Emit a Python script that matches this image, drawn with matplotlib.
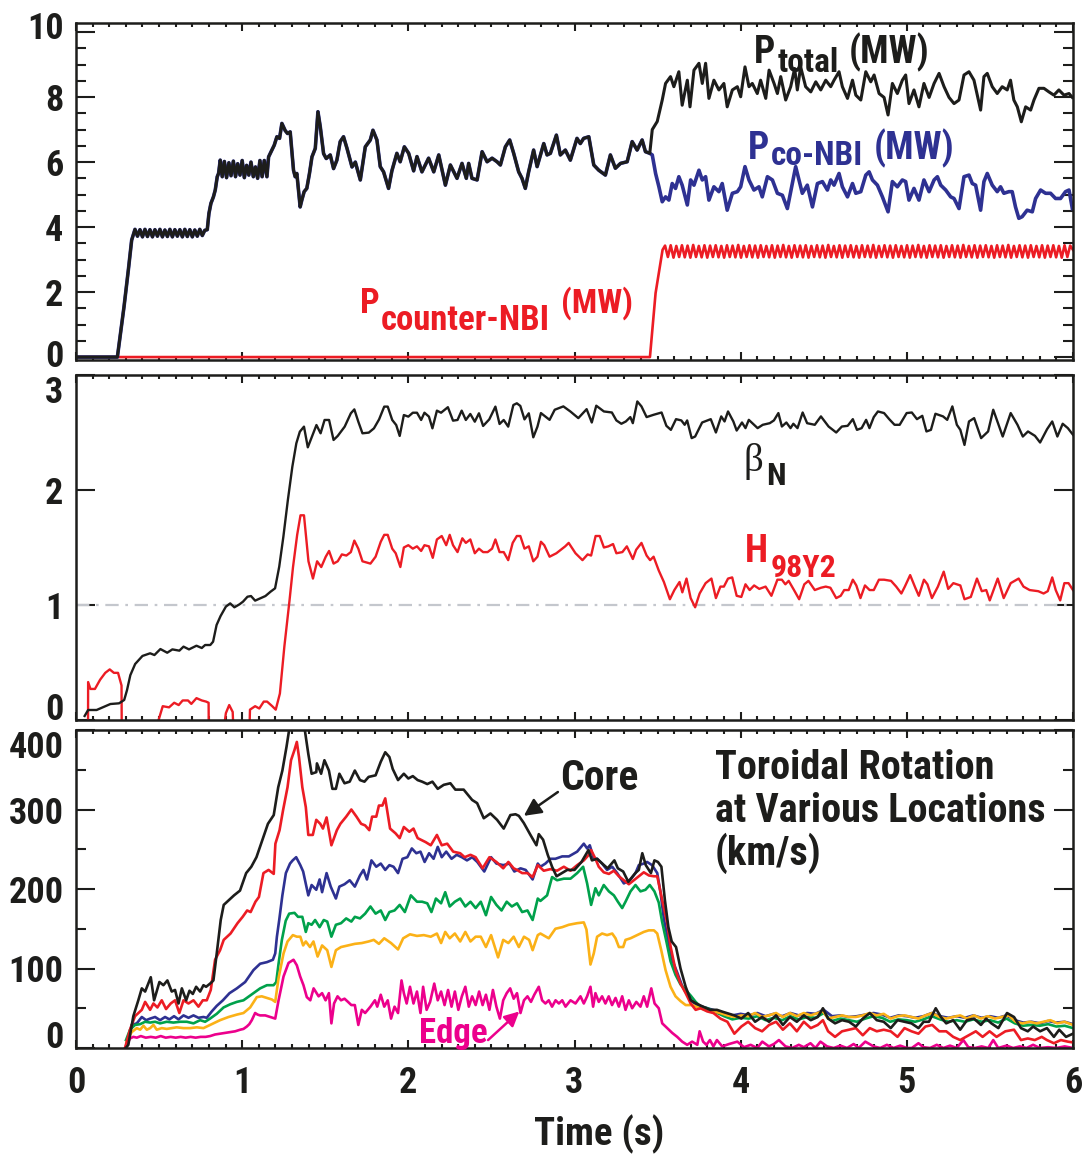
import os
import numpy as np
import matplotlib
matplotlib.use("Agg")
import matplotlib.pyplot as plt
from matplotlib import font_manager as fm
from matplotlib.ticker import MultipleLocator
from matplotlib.transforms import ScaledTranslation

# ---------------- data (time in s, value) ----------------
# Panel 1: NBI powers (MW)
pco_before = [(0.0,0),(0.249,0),(0.289,1.55),(0.315,2.68),(0.335,3.6),(0.355,3.93),
(0.370,3.72),(0.385,3.92),(0.400,3.70),(0.415,3.93),(0.430,3.71),(0.445,3.92),(0.460,3.70),(0.475,3.92),
(0.490,3.72),(0.505,3.93),(0.520,3.70),(0.535,3.91),(0.550,3.71),(0.565,3.93),(0.580,3.70),(0.595,3.92),
(0.610,3.72),(0.625,3.92),(0.640,3.70),(0.655,3.93),(0.670,3.71),(0.685,3.92),(0.700,3.70),(0.715,3.91),
(0.730,3.72),(0.745,3.93),(0.760,3.74),(0.775,3.90),(0.790,3.92),
(0.800,4.42),(0.812,4.73),(0.827,4.93),(0.838,5.14),(0.850,5.55),(0.858,5.65),(0.868,6.06),
(0.880,5.55),(0.893,6.02),(0.906,5.52),(0.920,5.98),(0.933,5.58),(0.947,6.03),(0.960,5.55),(0.973,5.95),
(0.987,5.60),(1.000,6.05),(1.013,5.52),(1.027,5.90),(1.040,5.60),(1.053,6.00),(1.067,5.55),(1.080,5.85),
(1.093,5.50),(1.107,6.05),(1.120,5.55),(1.133,6.05),(1.149,5.55),
(1.159,6.16),(1.179,6.37),(1.193,6.52),(1.209,6.78),(1.225,6.73),(1.239,7.19),(1.259,6.97),(1.273,6.88),
(1.289,6.93),(1.309,5.75),(1.319,5.55),(1.329,5.65),(1.349,4.62),(1.359,4.83),(1.373,5.09),(1.389,5.19),
(1.405,5.65),(1.420,6.16),(1.440,6.42),(1.456,7.55),(1.470,7.09),(1.490,6.26),(1.506,6.11),(1.530,6.22),
(1.550,5.80),(1.570,6.06),(1.590,6.63),(1.610,6.78),(1.631,6.42),(1.661,5.85),(1.681,6.00),(1.711,5.45),
(1.741,6.47),(1.771,6.68),(1.787,6.98),(1.811,6.68),(1.831,5.86),(1.851,5.70),(1.881,5.19),(1.901,5.73),
(1.931,6.27),(1.951,6.01),(1.976,6.47),(2.002,6.27),(2.032,5.73),(2.052,6.17),(2.082,5.70),(2.122,6.12),
(2.153,5.70),(2.183,6.22),(2.223,5.29),(2.253,5.91),(2.293,5.50),(2.323,5.96),(2.349,5.50),(2.363,5.96),
(2.383,5.50),(2.414,5.45),(2.444,6.32),(2.474,6.01),(2.504,6.12),(2.534,6.01),(2.554,5.91),(2.584,6.47),
(2.610,6.68),(2.634,6.27),(2.664,5.70),(2.684,5.50),(2.704,5.19),(2.724,5.70),(2.754,6.37),(2.775,5.86),
(2.815,6.57),(2.835,6.22),(2.855,6.27),(2.891,6.83),(2.915,6.22),(2.945,6.37),(2.975,6.06),(3.015,6.73),
(3.035,6.57),(3.055,6.73),(3.086,6.78),(3.116,5.91),(3.146,5.75),(3.186,5.60),(3.216,6.22),(3.246,5.81),
(3.277,5.96),(3.317,6.01),(3.347,6.63),(3.377,6.37),(3.407,6.68),(3.427,6.32),(3.453,6.27)]

pco_after = [(3.468,6.22),(3.488,5.65),(3.508,5.24),(3.528,4.78),(3.548,4.93),(3.568,4.83),(3.588,5.34),
(3.608,5.19),(3.628,5.55),(3.648,5.29),(3.679,4.68),(3.699,5.45),(3.719,5.29),(3.749,5.75),(3.769,5.45),
(3.789,5.55),(3.809,4.83),(3.839,5.24),(3.869,5.09),(3.889,5.34),(3.919,4.52),(3.950,5.04),(3.980,5.09),
(4.000,5.24),(4.026,5.86),(4.050,5.45),(4.080,5.14),(4.110,5.24),(4.130,4.93),(4.161,5.55),(4.191,5.45),
(4.221,5.04),(4.251,4.98),(4.281,4.57),(4.311,5.34),(4.331,5.86),(4.351,5.45),(4.371,5.04),(4.401,5.29),
(4.432,4.62),(4.462,5.34),(4.492,5.40),(4.522,5.14),(4.542,5.45),(4.562,5.29),(4.592,5.65),(4.612,5.24),
(4.643,4.93),(4.673,5.34),(4.693,5.04),(4.723,5.09),(4.753,5.60),(4.773,5.70),(4.793,5.45),(4.823,5.29),
(4.853,4.93),(4.887,4.47),(4.913,5.40),(4.943,5.24),(4.973,5.45),(4.993,5.40),(5.013,4.83),(5.043,5.19),
(5.073,4.83),(5.103,5.45),(5.134,5.09),(5.164,5.45),(5.184,5.55),(5.204,5.29),(5.234,5.14),(5.264,4.93),
(5.284,4.88),(5.314,4.57),(5.344,5.55),(5.374,5.60),(5.394,5.34),(5.414,5.29),(5.444,4.52),(5.464,5.40),
(5.484,5.65),(5.514,5.29),(5.544,5.09),(5.564,5.24),(5.584,5.04),(5.614,5.09),(5.634,5.09),(5.654,4.62),
(5.674,4.27),(5.694,4.32),(5.724,4.52),(5.755,4.47),(5.775,4.88),(5.805,5.14),(5.835,5.04),(5.865,5.04),
(5.895,4.88),(5.925,4.88),(5.955,5.09),(5.976,5.14),(5.996,4.57)]

ptotal_after = [(3.468,7.00),(3.498,7.25),(3.528,7.91),(3.548,8.42),(3.578,8.63),(3.598,8.32),(3.628,8.78),
(3.648,7.75),(3.679,8.52),(3.695,7.70),(3.719,8.83),(3.749,9.04),(3.769,8.42),(3.789,9.04),(3.809,7.96),
(3.839,8.52),(3.869,8.22),(3.899,8.42),(3.919,7.70),(3.950,8.22),(3.980,8.32),(4.000,8.01),(4.026,8.93),
(4.050,8.32),(4.070,8.42),(4.100,8.11),(4.120,8.52),(4.151,7.96),(4.171,8.83),(4.201,8.42),(4.221,8.11),
(4.241,8.63),(4.271,7.91),(4.301,8.32),(4.325,8.88),(4.341,8.22),(4.361,8.93),(4.391,8.32),(4.422,8.16),
(4.452,8.47),(4.482,8.22),(4.512,8.52),(4.542,8.32),(4.562,8.52),(4.592,8.78),(4.612,8.32),(4.643,7.96),
(4.673,8.52),(4.693,8.06),(4.723,7.91),(4.753,8.78),(4.783,8.47),(4.803,8.68),(4.833,8.11),(4.863,7.99),
(4.887,7.45),(4.913,8.42),(4.943,8.11),(4.973,8.52),(4.993,8.68),(5.013,7.80),(5.043,8.22),(5.073,7.70),
(5.103,8.42),(5.134,7.99),(5.164,8.42),(5.194,8.73),(5.224,8.32),(5.254,7.99),(5.284,7.80),(5.314,7.91),
(5.344,8.68),(5.374,8.78),(5.404,8.52),(5.444,7.60),(5.464,8.63),(5.484,8.73),(5.514,8.32),(5.544,8.11),
(5.574,8.32),(5.604,8.22),(5.624,8.52),(5.644,7.91),(5.665,7.70),(5.689,7.24),(5.715,7.70),(5.745,7.60),
(5.765,7.91),(5.795,8.27),(5.825,8.27),(5.855,8.16),(5.885,8.06),(5.915,8.22),(5.946,8.06),(5.976,8.11),
(5.996,7.99)]

pcounter_ramp = [(0.0,0),(3.454,0),(3.488,1.97),(3.530,3.30)]
pcounter_zig = [
3.43,3.08,3.44,3.06,3.42,3.08,3.44,3.07,3.43,3.06,3.45,3.08,3.42,3.07,3.44,3.06,3.43,3.08,3.44,3.07,
3.42,3.06,3.44,3.08,3.43,3.07,3.45,3.06,3.42,3.08,3.44,3.07,3.43,3.06,3.44,3.08,3.42,3.07,3.44,3.06,
3.43,3.08,3.45,3.07,3.42,3.06,3.44,3.08,3.43,3.07,3.44,3.06,3.42,3.08,3.44,3.07,3.43,3.06,3.45,3.08,
3.42,3.07,3.44,3.06,3.43,3.08,3.44,3.07,3.42,3.06,3.44,3.08,3.43,3.07,3.45,3.06,3.42,3.08,3.44,3.07,
3.43,3.06,3.44,3.08,3.42,3.07,3.44,3.06,3.43,3.08,3.45,3.07,3.42,3.06,3.44,3.08,3.43,3.07,3.44,3.06,
3.42,3.08,3.44,3.07,3.43,3.06,3.45,3.08,3.42,3.07,3.44,3.06,3.43,3.08,3.44,3.07,3.42,3.06,3.44,3.08,
3.43,3.07,3.45,3.06,3.42,3.08,3.44,3.07,3.43,3.06,3.44,3.08,3.42,3.07,3.44,3.06,3.43,3.08,3.44,3.07,
3.42,3.06,3.44,3.08,3.43,3.30]
pcounter_zig_span = (3.545, 6.0)

# Panel 2: beta_N and H98y2
beta_n = [(0.052,0.035),(0.073,0.087),(0.124,0.087),(0.207,0.139),(0.259,0.145),(0.290,0.174),(0.307,0.26),
(0.327,0.39),(0.356,0.487),(0.40,0.557),(0.446,0.58),(0.472,0.565),(0.508,0.617),(0.549,0.585),(0.58,0.614),
(0.622,0.603),(0.647,0.638),(0.68,0.614),(0.725,0.646),(0.757,0.626),(0.777,0.652),(0.808,0.652),(0.825,0.681),
(0.846,0.826),(0.87,0.904),(0.902,0.986),(0.928,1.014),(0.953,0.98),(0.984,1.006),(1.005,1.029),(1.032,1.072),
(1.053,1.078),(1.078,1.038),(1.109,1.058),(1.14,1.078),(1.171,1.116),(1.198,1.145),(1.223,1.333),(1.248,1.594),
(1.275,1.913),(1.302,2.203),(1.326,2.406),(1.347,2.507),(1.372,2.551),(1.395,2.371),(1.42,2.464),(1.447,2.565),
(1.472,2.493),(1.496,2.609),(1.523,2.609),(1.55,2.435),(1.575,2.47),(1.617,2.551),(1.654,2.667),(1.675,2.701),
(1.699,2.594),(1.724,2.493),(1.762,2.499),(1.793,2.536),(1.824,2.614),(1.855,2.725),(1.876,2.725),(1.903,2.609),
(1.927,2.565),(1.948,2.47),(1.973,2.652),(2.0,2.638),(2.027,2.672),(2.052,2.672),(2.077,2.609),(2.097,2.672),
(2.124,2.638),(2.145,2.536),(2.172,2.69),(2.197,2.672),(2.238,2.72),(2.269,2.603),(2.296,2.609),(2.321,2.69),
(2.346,2.609),(2.373,2.661),(2.4,2.594),(2.425,2.667),(2.45,2.557),(2.487,2.614),(2.524,2.725),(2.549,2.574),
(2.574,2.609),(2.601,2.551),(2.632,2.739),(2.653,2.754),(2.674,2.731),(2.699,2.614),(2.725,2.667),(2.752,2.458),
(2.777,2.551),(2.798,2.669),(2.85,2.61),(2.881,2.698),(2.933,2.727),(2.975,2.683),(3.023,2.625),(3.073,2.703),
(3.104,2.587),(3.131,2.733),(3.177,2.683),(3.225,2.674),(3.252,2.605),(3.282,2.576),(3.309,2.596),(3.336,2.634),
(3.351,2.581),(3.378,2.77),(3.403,2.727),(3.434,2.634),(3.476,2.654),(3.524,2.674),(3.553,2.558),(3.58,2.523),
(3.611,2.616),(3.643,2.605),(3.663,2.567),(3.678,2.605),(3.705,2.451),(3.726,2.465),(3.768,2.587),(3.82,2.616),
(3.851,2.5),(3.883,2.64),(3.903,2.596),(3.924,2.683),(3.956,2.596),(3.976,2.517),(4.008,2.587),(4.029,2.538),
(4.049,2.61),(4.074,2.576),(4.102,2.538),(4.133,2.567),(4.175,2.581),(4.2,2.605),(4.227,2.669),(4.248,2.552),
(4.275,2.587),(4.3,2.538),(4.317,2.576),(4.342,2.538),(4.373,2.674),(4.4,2.581),(4.446,2.567),(4.483,2.64),
(4.529,2.552),(4.575,2.5),(4.609,2.552),(4.644,2.558),(4.675,2.616),(4.7,2.523),(4.728,2.538),(4.755,2.61),
(4.775,2.538),(4.801,2.634),(4.826,2.683),(4.863,2.669),(4.894,2.616),(4.926,2.567),(4.957,2.567),(4.999,2.669),
(5.03,2.674),(5.061,2.616),(5.093,2.645),(5.118,2.509),(5.145,2.523),(5.172,2.663),(5.218,2.64),(5.243,2.61),
(5.274,2.727),(5.301,2.567),(5.322,2.523),(5.347,2.392),(5.374,2.596),(5.405,2.625),(5.447,2.451),(5.489,2.509),
(5.52,2.698),(5.552,2.567),(5.577,2.465),(5.625,2.669),(5.666,2.567),(5.698,2.465),(5.729,2.509),(5.771,2.471),
(5.802,2.413),(5.844,2.529),(5.875,2.596),(5.906,2.465),(5.938,2.576),(5.969,2.538),(6.0,2.48)]

h98y2 = [(0.072,-0.3),(0.073,0.33),(0.087,0.27),(0.114,0.27),(0.145,0.35),(0.176,0.41),(0.203,0.44),(0.228,0.41),
(0.253,0.41),(0.274,0.30),(0.276,-0.3),(0.48,-0.3),(0.497,0.0),(0.522,0.12),(0.56,0.11),(0.591,0.15),(0.618,0.13),
(0.642,0.17),(0.674,0.17),(0.694,0.14),(0.725,0.19),(0.757,0.17),(0.783,0.16),(0.798,0.15),(0.80,-0.3),(0.87,-0.3),
(0.902,0.06),(0.922,0.13),(0.943,0.07),(0.953,-0.3),(1.04,-0.3),(1.047,0.09),(1.078,0.12),(1.103,0.10),(1.13,0.16),
(1.15,0.16),(1.181,0.12),(1.202,0.09),(1.227,0.23),(1.254,0.64),(1.285,1.04),(1.306,1.33),(1.331,1.61),(1.351,1.78),
(1.372,1.78),(1.399,1.38),(1.426,1.23),(1.451,1.38),(1.476,1.33),(1.503,1.42),(1.523,1.47),(1.55,1.36),(1.575,1.38),
(1.6,1.44),(1.627,1.43),(1.654,1.46),(1.675,1.56),(1.699,1.49),(1.724,1.38),(1.772,1.36),(1.803,1.42),(1.834,1.55),
(1.855,1.61),(1.876,1.61),(1.903,1.49),(1.924,1.45),(1.952,1.33),(1.973,1.50),(2.0,1.52),(2.027,1.49),(2.052,1.51),
(2.077,1.47),(2.097,1.52),(2.124,1.51),(2.147,1.41),(2.172,1.57),(2.201,1.60),(2.228,1.52),(2.249,1.61),(2.269,1.52),
(2.296,1.46),(2.325,1.58),(2.346,1.54),(2.373,1.57),(2.4,1.45),(2.425,1.49),(2.45,1.46),(2.477,1.46),(2.504,1.49),
(2.524,1.57),(2.549,1.46),(2.574,1.46),(2.601,1.39),(2.628,1.54),(2.653,1.60),(2.674,1.60),(2.699,1.49),(2.725,1.51),
(2.752,1.38),(2.777,1.42),(2.798,1.55),(2.818,1.52),(2.85,1.42),(2.891,1.45),(2.944,1.51),(2.965,1.54),(3.006,1.45),
(3.048,1.39),(3.079,1.44),(3.1,1.43),(3.127,1.60),(3.152,1.60),(3.177,1.50),(3.204,1.51),(3.232,1.53),(3.252,1.45),
(3.288,1.46),(3.315,1.51),(3.351,1.40),(3.371,1.48),(3.403,1.54),(3.434,1.43),(3.455,1.39),(3.476,1.42),(3.507,1.30),
(3.538,1.20),(3.574,1.05),(3.601,1.13),(3.632,1.20),(3.649,1.11),(3.674,1.23),(3.699,1.06),(3.726,0.98),(3.753,1.10),
(3.789,1.19),(3.824,1.23),(3.851,1.06),(3.878,1.16),(3.899,1.16),(3.924,1.23),(3.949,1.24),(3.976,1.08),(4.004,1.07),
(4.029,1.18),(4.054,1.13),(4.081,1.17),(4.112,1.14),(4.15,1.16),(4.185,1.08),(4.221,1.22),(4.248,1.22),(4.269,1.18),
(4.289,1.21),(4.321,1.13),(4.352,1.05),(4.383,1.18),(4.408,1.21),(4.446,1.13),(4.483,1.15),(4.512,1.16),(4.54,1.15),
(4.575,1.06),(4.602,1.08),(4.623,1.13),(4.65,1.13),(4.675,1.22),(4.696,1.17),(4.721,1.06),(4.748,1.17),(4.776,1.13),
(4.801,1.13),(4.832,1.22),(4.863,1.22),(4.905,1.21),(4.936,1.16),(4.967,1.10),(4.988,1.16),(5.02,1.26),(5.051,1.15),
(5.072,1.08),(5.103,1.22),(5.124,1.18),(5.151,1.06),(5.187,1.16),(5.222,1.29),(5.249,1.14),(5.28,1.19),(5.301,1.18),
(5.322,1.17),(5.347,1.05),(5.385,1.07),(5.422,1.23),(5.451,1.12),(5.478,1.13),(5.499,1.04),(5.547,1.23),(5.583,1.06),
(5.625,1.19),(5.673,1.23),(5.702,1.16),(5.739,1.13),(5.791,1.12),(5.823,1.10),(5.848,1.12),(5.875,1.24),(5.896,1.13),
(5.923,1.04),(5.948,1.19),(5.973,1.19),(6.0,1.13)]
h98_reference = 1.0

# Panel 3: toroidal rotation (km/s), core to edge
rot_core = [(0.30,0),(0.315,4),(0.345,40),(0.375,60),(0.396,75),(0.416,71),(0.45,89),(0.47,60),(0.502,83),
(0.526,79),(0.55,85),(0.576,71),(0.596,73),(0.617,56),(0.637,75),(0.663,60),(0.683,72),(0.703,68),(0.723,77),
(0.747,71),(0.767,79),(0.783,77),(0.807,81),(0.827,85),(0.847,119),(0.871,161),(0.889,180),(0.92,186),(0.951,192),
(0.987,198),(1.024,220),(1.055,228),(1.086,240),(1.117,259),(1.155,282),(1.19,293),(1.217,328),(1.242,349),
(1.267,379),(1.29,410),(1.31,440),(1.33,445),(1.35,430),(1.377,400),(1.398,370),(1.418,345),(1.446,347),(1.45,358),
(1.475,345),(1.495,362),(1.522,349),(1.543,326),(1.564,326),(1.585,345),(1.616,333),(1.647,335),(1.678,349),
(1.709,337),(1.736,335),(1.761,341),(1.803,343),(1.834,360),(1.861,372),(1.886,366),(1.906,351),(1.938,337),
(1.973,345),(2.0,339),(2.027,342),(2.056,337),(2.083,335),(2.114,332),(2.145,335),(2.177,326),(2.213,331),
(2.253,333),(2.283,325),(2.333,325),(2.384,312),(2.414,308),(2.454,289),(2.494,295),(2.534,287),(2.574,276),
(2.614,293),(2.645,294),(2.665,292),(2.695,283),(2.735,268),(2.771,255),(2.785,269),(2.811,262),(2.839,243),
(2.865,228),(2.892,216),(2.916,219),(2.956,224),(3.0,224),(3.042,234),(3.084,249),(3.105,236),(3.136,238),
(3.167,232),(3.199,226),(3.24,236),(3.261,226),(3.293,222),(3.324,209),(3.366,220),(3.387,224),(3.408,245),
(3.429,230),(3.46,220),(3.481,236),(3.502,234),(3.523,228),(3.544,186),(3.565,152),(3.585,134),(3.611,127),
(3.638,100),(3.669,77),(3.7,60),(3.732,56),(3.774,52),(3.815,48),(3.857,48),(3.9,45),(3.962,41),(4.004,37),
(4.045,44),(4.087,33),(4.129,39),(4.171,33),(4.213,41),(4.254,29),(4.296,39),(4.338,33),(4.38,41),(4.422,35),
(4.464,39),(4.495,50),(4.526,37),(4.568,31),(4.61,35),(4.652,33),(4.693,27),(4.735,37),(4.777,44),(4.819,35),
(4.861,33),(4.903,25),(4.944,35),(4.986,33),(5.028,31),(5.07,25),(5.101,33),(5.133,33),(5.174,50),(5.205,39),
(5.237,31),(5.279,35),(5.321,23),(5.362,35),(5.404,37),(5.446,29),(5.477,37),(5.509,31),(5.551,25),(5.603,44),
(5.645,39),(5.687,25),(5.728,21),(5.76,27),(5.802,21),(5.843,25),(5.885,14),(5.917,23),(5.958,14),(6.0,18)]

rot_red = [(0.295,0),(0.325,23),(0.355,40),(0.396,48),(0.416,58),(0.446,48),(0.466,56),(0.49,51),(0.516,60),
(0.542,49),(0.57,56),(0.596,60),(0.622,44),(0.647,60),(0.677,56),(0.707,60),(0.737,52),(0.763,60),(0.787,60),
(0.811,73),(0.837,111),(0.867,123),(0.889,136),(0.93,144),(0.972,157),(1.003,165),(1.03,173),(1.051,171),
(1.08,184),(1.101,190),(1.128,220),(1.159,224),(1.19,219),(1.2,257),(1.225,274),(1.246,299),(1.273,328),
(1.294,362),(1.315,375),(1.329,385),(1.342,366),(1.362,328),(1.383,303),(1.398,268),(1.425,268),(1.446,287),
(1.47,282),(1.486,276),(1.508,290),(1.537,255),(1.57,274),(1.591,282),(1.626,291),(1.657,300),(1.688,291),
(1.716,282),(1.74,280),(1.765,274),(1.782,291),(1.807,291),(1.823,305),(1.844,305),(1.861,314),(1.89,276),
(1.923,270),(1.948,264),(1.973,278),(2.006,272),(2.031,276),(2.056,264),(2.104,259),(2.135,255),(2.172,268),
(2.201,255),(2.234,257),(2.27,247),(2.312,245),(2.339,240),(2.374,243),(2.405,240),(2.447,226),(2.488,240),
(2.53,234),(2.571,226),(2.602,234),(2.634,226),(2.654,224),(2.685,220),(2.717,220),(2.748,215),(2.779,230),
(2.815,223),(2.855,225),(2.895,223),(2.936,228),(2.976,223),(3.016,230),(3.056,236),(3.086,243),(3.1,249),
(3.126,238),(3.146,228),(3.176,221),(3.207,219),(3.237,223),(3.267,216),(3.297,211),(3.327,206),(3.357,211),
(3.387,216),(3.417,221),(3.448,217),(3.478,216),(3.498,216),(3.528,186),(3.558,157),(3.578,128),(3.608,98),
(3.638,81),(3.669,69),(3.699,56),(3.729,48),(3.759,50),(3.799,46),(3.836,44),(3.878,37),(3.92,33),(3.962,18),
(4.004,27),(4.045,33),(4.087,25),(4.129,21),(4.171,29),(4.213,33),(4.254,23),(4.296,31),(4.338,21),(4.38,33),
(4.422,25),(4.464,29),(4.495,35),(4.526,21),(4.568,14),(4.61,21),(4.652,23),(4.693,25),(4.735,16),(4.777,25),
(4.819,21),(4.861,23),(4.903,21),(4.944,14),(4.986,25),(5.028,21),(5.07,18),(5.112,27),(5.153,29),(5.195,21),
(5.237,21),(5.279,14),(5.321,10),(5.373,16),(5.415,21),(5.456,14),(5.498,21),(5.54,14),(5.593,21),(5.645,23),
(5.687,10),(5.728,12),(5.77,10),(5.812,14),(5.843,10),(5.885,6),(5.927,10),(5.969,8),(6.0,7)]

rot_blue = [(0.305,4),(0.335,29),(0.366,31),(0.396,39),(0.422,35),(0.446,37),(0.476,39),(0.506,35),(0.536,39),
(0.562,36),(0.59,40),(0.617,36),(0.647,41),(0.677,38),(0.707,41),(0.737,38),(0.767,39),(0.787,38),(0.817,46),
(0.847,53),(0.884,60),(0.924,69),(0.968,75),(1.018,83),(1.068,98),(1.108,106),(1.149,108),(1.185,111),(1.199,119),
(1.209,140),(1.223,161),(1.242,192),(1.263,220),(1.288,232),(1.304,236),(1.325,240),(1.35,230),(1.367,222),
(1.398,192),(1.418,205),(1.446,199),(1.466,212),(1.481,196),(1.508,220),(1.533,203),(1.564,188),(1.585,203),
(1.616,206),(1.647,211),(1.678,203),(1.709,217),(1.73,224),(1.751,212),(1.778,236),(1.807,228),(1.834,232),
(1.861,224),(1.886,230),(1.911,228),(1.938,220),(1.965,238),(1.994,240),(2.021,251),(2.048,245),(2.073,247),
(2.098,234),(2.125,245),(2.152,238),(2.177,253),(2.201,240),(2.228,247),(2.26,238),(2.291,243),(2.322,240),
(2.353,236),(2.384,240),(2.415,234),(2.457,222),(2.498,240),(2.53,232),(2.571,230),(2.609,232),(2.638,222),
(2.675,226),(2.706,224),(2.748,212),(2.779,232),(2.795,228),(2.825,232),(2.855,238),(2.885,238),(2.926,241),
(2.966,241),(3.016,247),(3.056,257),(3.076,251),(3.092,255),(3.116,238),(3.136,238),(3.166,232),(3.196,224),
(3.227,228),(3.257,220),(3.297,207),(3.337,212),(3.367,220),(3.387,230),(3.417,232),(3.437,234),(3.467,230),
(3.498,220),(3.518,195),(3.538,162),(3.562,137),(3.588,111),(3.618,95),(3.648,78),(3.678,67),(3.709,58),
(3.739,54),(3.77,52),(3.8,50),(3.85,47),(3.9,44),(3.95,41),(4.0,43),(4.05,41),(4.1,44),(4.15,40),(4.2,43),
(4.25,40),(4.3,44),(4.35,41),(4.4,44),(4.45,43),(4.5,48),(4.55,40),(4.6,41),(4.65,39),(4.7,40),(4.75,42),
(4.8,44),(4.85,42),(4.9,38),(4.95,41),(5.0,40),(5.05,38),(5.1,40),(5.15,44),(5.2,40),(5.25,38),(5.3,40),
(5.35,38),(5.4,41),(5.45,38),(5.5,40),(5.55,38),(5.6,41),(5.65,35),(5.7,32),(5.75,33),(5.8,31),(5.85,34),
(5.9,32),(5.95,33),(6.0,30)]

rot_green = [(0.301,10),(0.325,23),(0.355,29),(0.386,30),(0.416,33),(0.446,32),(0.476,33),(0.506,31),(0.546,33),
(0.586,32),(0.627,33),(0.667,33),(0.707,31),(0.747,35),(0.777,33),(0.807,37),(0.847,43),(0.888,51),(0.928,55),
(0.968,58),(1.008,60),(1.048,66),(1.088,72),(1.108,75),(1.149,79),(1.189,79),(1.205,83),(1.219,106),(1.239,136),
(1.262,160),(1.283,169),(1.315,170),(1.336,165),(1.362,165),(1.383,146),(1.398,157),(1.418,155),(1.439,161),
(1.466,152),(1.491,161),(1.512,159),(1.537,140),(1.564,155),(1.595,157),(1.626,163),(1.657,159),(1.678,165),
(1.709,163),(1.74,169),(1.772,178),(1.803,169),(1.834,173),(1.861,161),(1.886,171),(1.917,173),(1.948,180),
(1.979,171),(2.015,192),(2.052,184),(2.083,184),(2.114,182),(2.139,171),(2.166,188),(2.197,182),(2.222,196),
(2.249,178),(2.28,184),(2.312,188),(2.343,178),(2.374,184),(2.405,176),(2.436,184),(2.467,167),(2.498,190),
(2.53,180),(2.561,173),(2.592,184),(2.623,178),(2.654,182),(2.685,171),(2.717,173),(2.748,161),(2.779,188),
(2.795,185),(2.835,192),(2.865,215),(2.895,211),(2.936,213),(2.976,213),(3.016,220),(3.052,228),(3.076,207),
(3.1,180),(3.126,201),(3.146,192),(3.176,205),(3.207,197),(3.237,192),(3.261,184),(3.287,176),(3.307,184),
(3.337,197),(3.367,205),(3.397,197),(3.427,199),(3.453,205),(3.481,197),(3.507,183),(3.527,159),(3.553,134),
(3.578,109),(3.608,92),(3.638,80),(3.669,73),(3.699,66),(3.729,58),(3.759,52),(3.8,50),(3.85,45),(3.9,40),
(3.95,36),(4.0,38),(4.05,37),(4.1,40),(4.15,35),(4.2,38),(4.25,35),(4.3,40),(4.35,36),(4.4,39),(4.45,38),
(4.5,44),(4.55,34),(4.6,37),(4.65,35),(4.7,33),(4.75,37),(4.8,40),(4.85,38),(4.9,33),(4.95,36),(5.0,35),
(5.05,33),(5.1,36),(5.15,40),(5.2,36),(5.25,33),(5.3,35),(5.35,33),(5.4,36),(5.45,33),(5.5,35),(5.55,32),
(5.6,37),(5.65,31),(5.7,28),(5.75,29),(5.8,28),(5.85,30),(5.9,27),(5.95,28),(6.0,25)]

rot_orange = [(0.305,8),(0.335,20),(0.366,25),(0.386,23),(0.406,28),(0.426,23),(0.446,25),(0.466,29),(0.486,23),
(0.516,25),(0.546,24),(0.576,25),(0.606,26),(0.647,25),(0.687,25),(0.727,26),(0.767,25),(0.787,27),(0.827,31),
(0.867,35),(0.918,39),(0.968,42),(1.008,44),(1.048,51),(1.088,64),(1.118,65),(1.149,63),(1.179,61),(1.199,58),
(1.219,88),(1.249,119),(1.273,134),(1.305,142),(1.329,140),(1.35,140),(1.367,129),(1.383,134),(1.408,127),
(1.429,134),(1.454,115),(1.481,129),(1.512,123),(1.537,102),(1.564,123),(1.595,127),(1.637,129),(1.678,131),
(1.72,132),(1.761,134),(1.792,136),(1.823,131),(1.855,138),(1.896,132),(1.938,124),(1.969,138),(2.01,143),
(2.052,141),(2.093,142),(2.135,140),(2.172,144),(2.197,132),(2.222,146),(2.249,138),(2.28,144),(2.312,134),
(2.343,146),(2.374,134),(2.405,140),(2.436,140),(2.467,127),(2.498,142),(2.54,114),(2.571,136),(2.602,132),
(2.634,140),(2.665,127),(2.696,140),(2.727,136),(2.748,123),(2.779,142),(2.795,144),(2.845,138),(2.885,150),
(2.926,152),(2.966,155),(3.016,157),(3.056,158),(3.072,149),(3.096,105),(3.116,119),(3.136,140),(3.166,144),
(3.196,142),(3.227,144),(3.247,138),(3.267,127),(3.293,127),(3.307,136),(3.337,138),(3.377,142),(3.417,146),
(3.447,148),(3.478,148),(3.498,144),(3.522,123),(3.548,98),(3.578,77),(3.608,65),(3.638,59),(3.669,54),
(3.711,54),(3.753,50),(3.794,48),(3.836,46),(3.878,44),(3.92,41),(3.962,39),(4.004,41),(4.045,40),(4.087,44),
(4.129,39),(4.171,41),(4.213,44),(4.254,39),(4.296,44),(4.338,40),(4.38,44),(4.422,41),(4.464,44),(4.495,46),
(4.526,37),(4.568,39),(4.61,41),(4.652,39),(4.693,39),(4.735,41),(4.777,44),(4.819,41),(4.861,43),(4.903,37),
(4.944,40),(4.986,41),(5.028,39),(5.07,37),(5.112,41),(5.153,44),(5.195,39),(5.237,37),(5.279,39),(5.321,41),
(5.362,37),(5.404,41),(5.446,37),(5.488,40),(5.53,37),(5.572,39),(5.614,41),(5.655,33),(5.697,31),(5.739,33),
(5.781,31),(5.822,33),(5.864,35),(5.906,31),(5.948,33),(6.0,29)]

rot_edge = [(0.295,0),(0.325,12),(0.345,14),(0.366,13),(0.39,15),(0.42,13),(0.45,14),(0.48,13),(0.51,15),(0.54,13),
(0.57,14),(0.6,13),(0.63,14),(0.66,13),(0.69,14),(0.72,13),(0.75,14),(0.78,14),(0.807,15),(0.837,17),(0.867,18),
(0.898,19),(0.928,20),(0.958,21),(0.988,23),(1.008,24),(1.028,27),(1.043,30),(1.058,35),(1.078,44),(1.093,42),
(1.108,41),(1.139,41),(1.169,39),(1.199,37),(1.219,60),(1.249,90),(1.279,107),(1.309,111),(1.329,104),(1.349,90),
(1.369,79),(1.389,64),(1.41,60),(1.43,75),(1.46,65),(1.481,69),(1.502,60),(1.522,69),(1.537,31),(1.553,56),
(1.574,65),(1.595,60),(1.616,62),(1.637,58),(1.657,54),(1.678,54),(1.699,29),(1.72,48),(1.74,44),(1.772,52),
(1.799,60),(1.813,52),(1.834,67),(1.855,52),(1.876,60),(1.896,37),(1.917,52),(1.938,44),(1.959,85),(1.973,69),
(1.99,56),(2.01,77),(2.031,56),(2.052,71),(2.073,44),(2.089,77),(2.11,48),(2.131,58),(2.156,81),(2.177,60),
(2.197,71),(2.218,54),(2.239,73),(2.26,52),(2.28,71),(2.301,48),(2.322,65),(2.343,77),(2.364,52),(2.384,65),
(2.405,54),(2.426,71),(2.447,54),(2.467,67),(2.488,48),(2.509,73),(2.53,52),(2.551,37),(2.571,60),(2.592,69),
(2.613,75),(2.634,62),(2.654,69),(2.675,44),(2.696,60),(2.717,65),(2.738,58),(2.758,67),(2.785,77),(2.805,60),
(2.825,56),(2.845,60),(2.865,52),(2.886,60),(2.906,56),(2.926,60),(2.946,52),(2.976,60),(3.006,56),(3.036,65),
(3.056,56),(3.076,65),(3.096,77),(3.112,52),(3.126,69),(3.146,58),(3.166,65),(3.186,56),(3.206,65),(3.226,54),
(3.247,63),(3.267,52),(3.287,65),(3.307,48),(3.327,60),(3.347,50),(3.372,58),(3.397,52),(3.417,65),(3.437,52),
(3.462,75),(3.482,56),(3.507,50),(3.528,31),(3.558,25),(3.588,19),(3.618,14),(3.648,8),(3.678,4),(3.708,8),
(3.739,4),(3.753,21),(3.774,8),(3.794,4),(3.815,10),(3.836,2),(3.857,10),(3.889,2),(3.93,5),(3.98,8),(4.02,1),
(4.06,4),(4.1,0),(4.13,8),(4.17,2),(4.2,5),(4.23,10),(4.27,2),(4.31,0),(4.35,4),(4.38,1),(4.42,6),(4.45,0),
(4.48,8),(4.52,2),(4.56,0),(4.6,3),(4.64,0),(4.68,5),(4.71,0),(4.75,8),(4.8,2),(4.84,0),(4.88,4),(4.92,0),
(4.96,3),(5.0,0),(5.03,0),(5.07,6),(5.1,1),(5.14,0),(5.18,4),(5.22,0),(5.26,3),(5.3,0),(5.34,10),(5.37,1),
(5.41,0),(5.45,2),(5.49,0),(5.52,10),(5.55,0),(5.6,3),(5.64,0),(5.68,2),(5.72,0),(5.76,4),(5.8,0),(5.85,1),
(5.9,0),(5.95,2),(6.0,0)]

x_ticks = [0, 1, 2, 3, 4, 5, 6]
p1_yticks = [0, 2, 4, 6, 8, 10]
p2_yticks = [0, 1, 2, 3]
p3_yticks = [0, 100, 200, 300, 400]

# ---------------- style ----------------
K = "#1d1d1b"
RED = "#ec1c24"
BLUE = "#2e3192"
GREEN = "#00a14b"
ORANGE = "#fbb117"
MAG = "#ec008c"
GRAY = "#c4c7cd"


def pick_narrow_font():
    candidates = [("Liberation Sans Narrow", "normal"), ("Arial Narrow", "normal"),
                  ("Roboto Condensed", "normal"), ("Noto Sans", "condensed"),
                  ("Open Sans", "condensed"), ("Noto Sans", "semi-condensed")]
    for fam, st in candidates:
        try:
            path = fm.findfont(fm.FontProperties(family=fam, weight="bold", stretch=st),
                               fallback_to_default=False)
        except Exception:
            continue
        base = os.path.basename(path).lower()
        if "narrow" in base or "condensed" in base:
            return fam, st, True
    return "Liberation Sans", "normal", False


FAM, STRETCH, NARROW = pick_narrow_font()
plt.rcParams["font.family"] = [FAM, "Liberation Sans", "DejaVu Sans"]
plt.rcParams["font.stretch"] = STRETCH
plt.rcParams["font.weight"] = "bold"
TS = 1.0 if NARROW else 0.84   # text scale for long labels

W, H = 1084, 1154
fig = plt.figure(figsize=(W / 100, H / 100), dpi=100)


def add_axes_px(top, bottom):
    return fig.add_axes([76 / W, 1 - bottom / H, (1073 - 76) / W, (bottom - top) / H])


ax1 = add_axes_px(23, 360)
ax2 = add_axes_px(375, 720)
ax3 = add_axes_px(730, 1048)


def xy(series):
    t, v = zip(*series)
    return np.array(t), np.array(v)


# ---- panel 1
t, v = xy(pcounter_ramp)
tz = np.linspace(pcounter_zig_span[0], pcounter_zig_span[1], len(pcounter_zig))
ax1.plot(np.concatenate([t, tz]), np.concatenate([v, pcounter_zig]), color=RED, lw=1.9)
t, v = xy(pco_before + pco_after)
ax1.plot(t, v, color=BLUE, lw=2.6)
t, v = xy(pco_before + ptotal_after)
ax1.plot(t, v, color=K, lw=2.2)

# ---- panel 2
ax2.axhline(h98_reference, color=GRAY, lw=1.6, ls=(0, (6, 3, 1.2, 3)))
t, v = xy(h98y2)
ax2.plot(t, v, color=RED, lw=1.7)
t, v = xy(beta_n)
ax2.plot(t, v, color=K, lw=1.7)

# ---- panel 3
for series, col in [(rot_edge, MAG), (rot_blue, BLUE), (rot_green, GREEN),
                    (rot_orange, ORANGE), (rot_red, RED), (rot_core, K)]:
    t, v = xy(series)
    ax3.plot(t, v, color=col, lw=1.9)

# ---- axes formatting
for ax in (ax1, ax2, ax3):
    ax.set_xlim(0, 6)
    ax.set_xticks(x_ticks)
    ax.xaxis.set_minor_locator(MultipleLocator(0.1))
    for s in ax.spines.values():
        s.set_linewidth(1.8)
        s.set_color(K)
    ax.tick_params(axis="both", which="both", direction="in", top=True, right=True,
                   width=1.5, color=K, labelsize=26, labelcolor=K)
    ax.tick_params(axis="x", which="major", length=6, pad=12)
    ax.tick_params(axis="x", which="minor", length=3)
    ax.tick_params(axis="y", which="major", length=14, pad=9)
    ax.tick_params(axis="y", which="minor", length=7)

ax1.set_ylim(-0.09, 10.28)
ax1.set_yticks(p1_yticks)
ax1.yaxis.set_minor_locator(MultipleLocator(0.5))
ax2.set_ylim(0, 3)
ax2.set_yticks(p2_yticks)
ax3.set_ylim(0, 400)
ax3.set_yticks(p3_yticks)
ax3.yaxis.set_minor_locator(MultipleLocator(50))
ax1.tick_params(labelbottom=False)
ax2.tick_params(labelbottom=False)

for ax in (ax2, ax3):
    ticks = ax.yaxis.get_major_ticks()
    ticks[0].label1.set_va("baseline")
    ticks[-1].label1.set_va("top")
# lift the end labels of the top panel a little, as in the reference
p1_ticks = ax1.yaxis.get_major_ticks()
for tk, dy in ((p1_ticks[0], 4), (p1_ticks[-1], 7)):
    lab = tk.label1
    lab.set_transform(lab.get_transform() + ScaledTranslation(0, dy / 100, fig.dpi_scale_trans))

renderer = fig.canvas.get_renderer()


def label(px, py, s, size, color, family=None, weight="bold", ha="left", stretch=None):
    kw = {}
    if family is not None:
        kw["family"] = family
    if stretch is not None:
        kw["fontstretch"] = stretch
    return fig.text(px / W, 1 - py / H, s, fontsize=size, color=color, fontweight=weight,
                    ha=ha, va="baseline", **kw)


def chain(px, parts, color):
    """parts: (text, size, baseline_px, gap_px_before, extra kwargs)"""
    x = px
    for s, size, base, gap, kw in parts:
        x += gap
        txt = label(x, base, s, size, color, **kw)
        bb = txt.get_window_extent(renderer)
        x = bb.x1


chain(754, [("P", 27 * TS, 63, 0, {}), ("total", 24 * TS, 72, 2, {}), ("(MW)", 27 * TS, 63, 10, {})], K)
chain(748, [("P", 27 * TS, 159, 0, {}), ("co-NBI", 24 * TS, 165, 2, {}), ("(MW)", 27 * TS, 159, 10, {})], BLUE)
chain(360, [("P", 25 * TS, 313, 0, {}), ("counter-NBI", 25 * TS, 330, 1, {}), ("(MW)", 24 * TS, 313, 11, {})], RED)
chain(743, [("\u03b2", 28, 471, 0, dict(family=["Liberation Serif", "DejaVu Serif"], weight="normal",
                                            stretch="normal")),
            ("N", 23, 485, 3, {})], K)
chain(745, [("H", 27, 562, 0, {}), ("98Y2", 23 * TS, 577, 3, {})], RED)
label(560, 790, "Core", 30 * TS, K)
label(715, 779, "Toroidal Rotation", 29 * TS, K)
label(715, 822, "at Various Locations", 29 * TS, K)
label(715, 865, "(km/s)", 29 * TS, K)
label(419, 1043, "Edge", 25 * TS, MAG)
label(599, 1145, "Time (s)", 28, K, ha="center")

ax3.annotate("", xy=(2.695, 292), xytext=(2.90, 322),
             arrowprops=dict(arrowstyle="-|>", color=K, lw=1.8, mutation_scale=26, shrinkA=0, shrinkB=0))
ax3.annotate("", xy=(2.668, 46), xytext=(2.48, 10),
             arrowprops=dict(arrowstyle="-|>", color=MAG, lw=1.8, mutation_scale=22, shrinkA=0, shrinkB=0))

fig.savefig("out.png", dpi=100)
